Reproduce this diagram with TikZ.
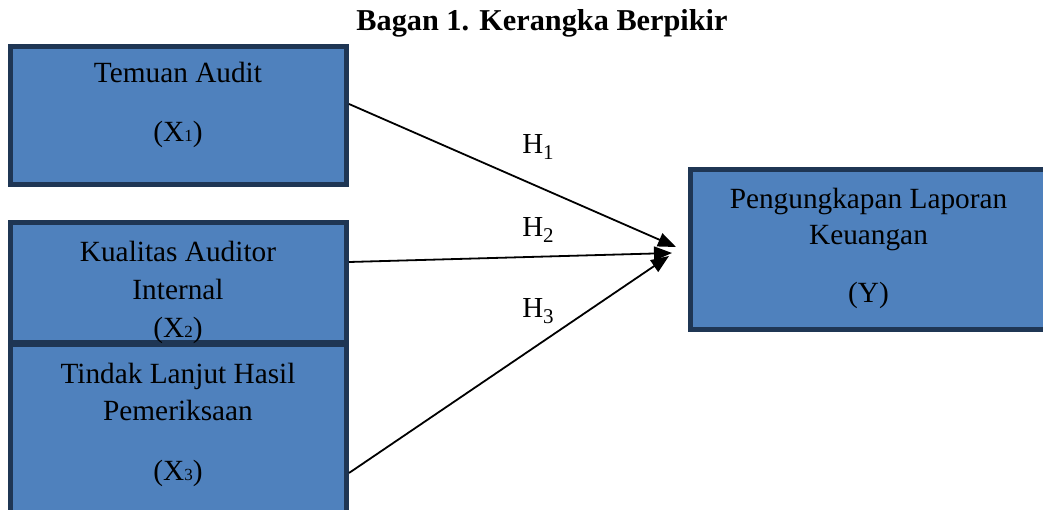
\documentclass[tikz,border=0pt]{standalone}
\usepackage{fontspec}
\setmainfont{Liberation Serif}
\usetikzlibrary{arrows.meta}
\definecolor{boxfill}{HTML}{4F81BD}
\definecolor{boxline}{HTML}{1F3654}
\newcommand\subd[1]{{\fontsize{17}{17}\selectfont #1}}
\newcommand\hsub[1]{\raisebox{-6pt}{\fontsize{21}{21}\selectfont #1}}
\tikzset{
  box/.style={draw=boxline, fill=boxfill, line width=5pt, rectangle, inner sep=0pt, outer sep=2.5pt},
  lbl/.style={anchor=base, inner sep=0pt, font=\fontsize{29.3}{35}\selectfont},
  hlbl/.style={anchor=base, inner sep=0pt, font=\fontsize{29}{32}\selectfont},
  conn/.style={line width=1.8pt, -{Triangle[length=18pt,width=14pt]}}
}
\begin{document}
\begin{tikzpicture}[x=1pt,y=-1pt]
\useasboundingbox (0,0) rectangle (1043,510);
\begin{scope}
\clip (0,0) rectangle (1043,510);
% title
\node[inner sep=0pt, anchor=base, font=\fontsize{30.3}{34}\selectfont\bfseries] (title) at (542,31) {Bagan 1. Kerangka Berpikir};
% boxes
\node[box, minimum width=336pt, minimum height=138pt] (b1) at (178.5,115.5) {};
\node[box, minimum width=336pt, minimum height=120pt] (b2) at (178.5,282.5) {};
\node[box, minimum width=336pt, minimum height=185.5pt] (b3) at (178.5,437.25) {};
\node[box, minimum width=369.5pt, minimum height=160pt] (by) at (875.25,249.5) {};
% texts
\node[lbl] (t1a) at (178,83) {Temuan Audit};
\node[lbl] (t1b) at (178,142) {(X\subd{1})};
\node[lbl] (t2a) at (178,262) {Kualitas Auditor};
\node[lbl] (t2b) at (178,299) {Internal};
\node[lbl] (t2c) at (178,337) {(X\subd{2})};
\node[lbl] (t3a) at (178,383) {Tindak Lanjut Hasil};
\node[lbl] (t3b) at (178,420) {Pemeriksaan};
\node[lbl] (t3c) at (178,480) {(X\subd{3})};
\node[lbl] (tya) at (868.5,209) {Pengungkapan Laporan};
\node[lbl] (tyb) at (868.5,245) {Keuangan};
\node[lbl] (tyc) at (868.5,303) {(Y)};
% arrow tips
\coordinate (e1) at (676,247);
\coordinate (e2) at (672,253);
\coordinate (e3) at (669,256);
\draw[conn] ([yshift=11.5pt]b1.east) -- (e1);
\draw[conn] ([yshift=20.5pt]b2.east) -- (e2);
\draw[conn] ([yshift=-35.75pt]b3.east) -- (e3);
% hypothesis labels
\node[hlbl] (h1) at (538,154) {H\hsub{1}};
\node[hlbl] (h2) at (538,237) {H\hsub{2}};
\node[hlbl] (h3) at (538,317) {H\hsub{3}};
\end{scope}
\end{tikzpicture}
\end{document}
